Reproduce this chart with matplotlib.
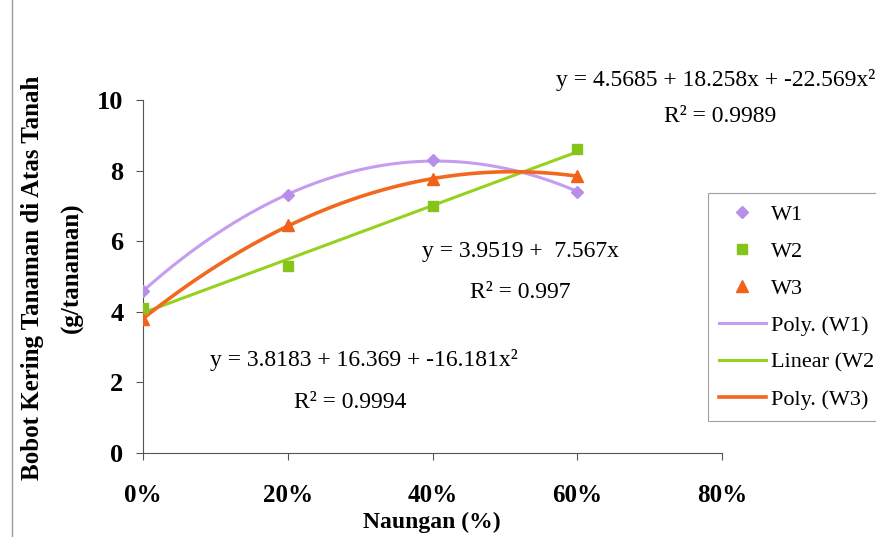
import matplotlib
matplotlib.use("Agg")
import matplotlib.pyplot as plt
from matplotlib.lines import Line2D
import numpy as np

plt.rcParams['font.family'] = ['Liberation Serif', 'DejaVu Serif']

# data
naungan = [0.0, 0.2, 0.4, 0.6]
w1 = [4.6, 7.3, 8.3, 7.4]
w2 = [4.1, 5.3, 7.0, 8.6]
w3 = [3.8, 6.45, 7.75, 7.85]
xticks = [0.0, 0.2, 0.4, 0.6, 0.8]
xtick_labels = ['0%', '20%', '40%', '60%', '80%']
yticks = [0, 2, 4, 6, 8, 10]

c1, c2, c3 = '#c59cf0', '#97d11f', '#f2681e'
c1m, c2m, c3m = '#b98ee8', '#86c41a', '#f0621a'

fig = plt.figure(figsize=(8.76, 5.37), dpi=100)
ax = fig.add_axes([143 / 876, 84 / 537, 579 / 876, 353 / 537])

# trendlines (fits of the points, like excel does)
xs = np.linspace(0, 0.6, 200)
p1 = np.polyfit(naungan, w1, 2)
p2 = np.polyfit(naungan, w2, 1)
p3 = np.polyfit(naungan, w3, 2)
ax.plot(xs, np.polyval(p1, xs), color=c1, lw=2.2, zorder=2)
ax.plot(xs, np.polyval(p2, xs), color=c2, lw=2.2, zorder=2)
ax.plot(xs, np.polyval(p3, xs), color=c3, lw=2.6, zorder=2)

ax.plot(naungan, w1, ls='none', marker='D', ms=6, color=c1m, zorder=3)
ax.plot(naungan, w2, ls='none', marker='s', ms=6.5, color=c2m, zorder=3)
ax.plot(naungan, w3, ls='none', marker='^', ms=8, color=c3m, zorder=3)

ax.set_xlim(0, 0.8)
ax.set_ylim(0, 10)
ax.set_xticks(xticks)
ax.set_xticklabels(xtick_labels, fontsize=18, fontweight='bold')
ax.set_yticks(yticks)
ax.set_yticklabels([str(v) for v in yticks], fontsize=19, fontweight='bold')
ax.tick_params(axis='both', length=5, width=0.8, color='#555555')
ax.tick_params(axis='y', pad=9)
ax.tick_params(axis='x', pad=17)
for s in ['top', 'right']:
    ax.spines[s].set_visible(False)
for s in ['left', 'bottom']:
    ax.spines[s].set_color('#555555')
    ax.spines[s].set_linewidth(0.8)

# axis titles
fig.text(432 / 876, 1 - 522 / 537, 'Naungan (%)', ha='center', va='center',
         fontsize=17, fontweight='bold')
fig.text(33 / 876, 1 - 278 / 537, 'Bobot Kering Tanaman di Atas Tanah',
         rotation=90, ha='center', va='center', fontsize=18, fontweight='bold')
fig.text(72 / 876, 1 - 268 / 537, '(g/tanaman)',
         rotation=90, ha='center', va='center', fontsize=18, fontweight='bold')

# equations
fig.text(556 / 876, 1 - 80 / 537, 'y = 4.5685 + 18.258x + -22.569x²',
         ha='left', va='center', fontsize=17)
fig.text(720 / 876, 1 - 116 / 537, 'R² = 0.9989', ha='center', va='center', fontsize=17)
fig.text(520 / 876, 1 - 251 / 537, 'y = 3.9519 +  7.567x', ha='center', va='center', fontsize=17)
fig.text(520 / 876, 1 - 293 / 537, 'R² = 0.997', ha='center', va='center', fontsize=17)
fig.text(364 / 876, 1 - 360 / 537, 'y = 3.8183 + 16.369 + -16.181x²',
         ha='center', va='center', fontsize=17)
fig.text(350 / 876, 1 - 402 / 537, 'R² = 0.9994', ha='center', va='center', fontsize=17)

handles = [
    Line2D([], [], ls='none', marker='D', ms=6, color=c1m),
    Line2D([], [], ls='none', marker='s', ms=6.5, color=c2m),
    Line2D([], [], ls='none', marker='^', ms=8, color=c3m),
    Line2D([], [], color=c1, lw=2.2),
    Line2D([], [], color=c2, lw=2.2),
    Line2D([], [], color=c3, lw=2.6),
]
labels = ['W1', 'W2', 'W3', 'Poly. (W1)', 'Linear (W2', 'Poly. (W3)']
leg = fig.legend(handles, labels, loc='upper left',
                 bbox_to_anchor=(708 / 876, 1 - 193 / 537), fontsize=16,
                 frameon=True, fancybox=False, handlelength=2.1,
                 labelspacing=0.74, borderpad=0.5, borderaxespad=0,
                 handletextpad=0.25)
leg.get_frame().set_edgecolor('#888888')
leg.get_frame().set_linewidth(0.8)

# scan border on the left
fig.add_artist(Line2D([12 / 876, 12 / 876], [0, 1], color='#999999', lw=1))

fig.savefig('out.png', dpi=100)
